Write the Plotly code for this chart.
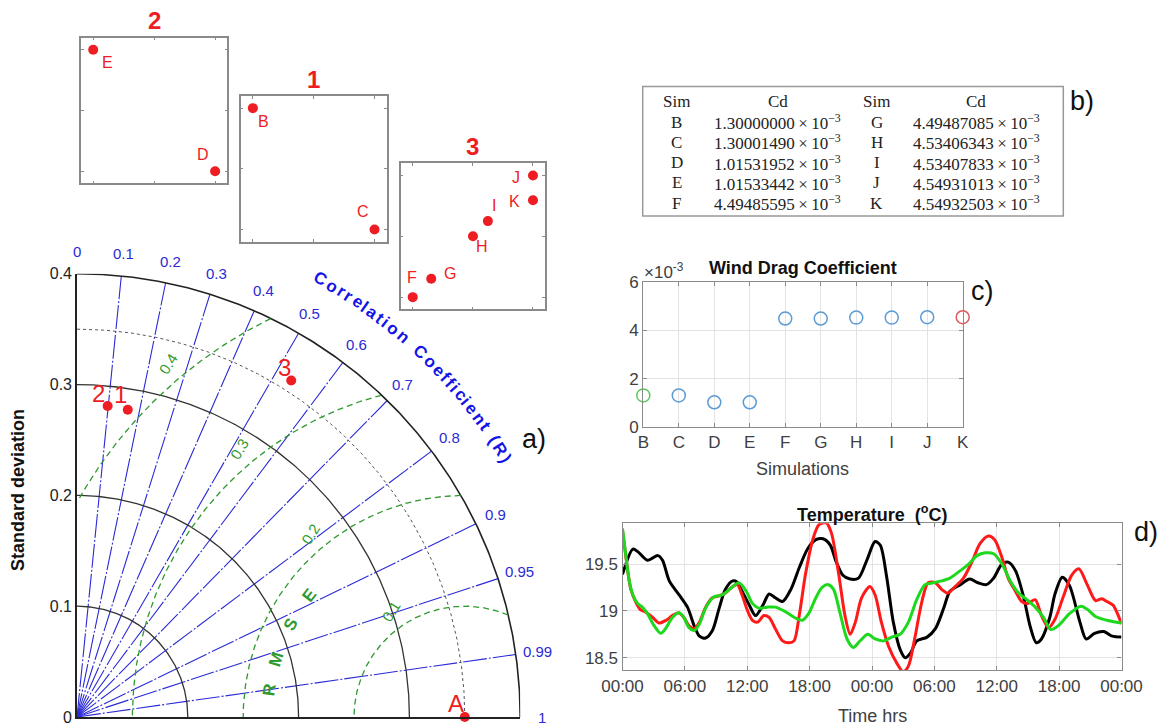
import numpy as np
import plotly.graph_objects as go

W, H = 1161, 728

# ---------------- data ----------------
# a) Taylor diagram
taylor_names = ["2", "1", "3", "A"]
taylor_std = [0.282, 0.281, 0.360, 0.350]
taylor_corr = [0.098, 0.163, 0.537, 1.0]
ref_std = 0.350
std_circles = [0.1, 0.2, 0.3]
std_max = 0.4
std_ticks = [0, 0.1, 0.2, 0.3, 0.4]
rmse_levels = [0.1, 0.2, 0.3, 0.4]
corr_spokes = [0.1, 0.2, 0.3, 0.4, 0.5, 0.6, 0.7, 0.8, 0.9, 0.95, 0.99]
corr_ticks = [0, 0.1, 0.2, 0.3, 0.4, 0.5, 0.6, 0.7, 0.8, 0.9, 0.95, 0.99, 1]
corr_title = "Correlation Coefficient (R)"
rmse_title = ["R", "M", "S", "E"]

# zoomed groups (relative position inside each zoom box)
group_titles = ["2", "1", "3"]
group2_names = ["E", "D"]
group2_x = [0.0, 1.0]
group2_y = [1.0, 0.0]
group1_names = ["B", "C"]
group1_x = [0.0, 1.0]
group1_y = [1.0, 0.0]
group3_names = ["F", "G", "H", "I", "J", "K"]
group3_x = [0.0, 0.154, 0.501, 0.625, 1.0, 1.0]
group3_y = [0.0, 0.151, 0.501, 0.625, 1.0, 0.797]

# b) / c) wind drag coefficient
sims = ["B", "C", "D", "E", "F", "G", "H", "I", "J", "K"]
cd = [1.30000000e-3, 1.30001490e-3, 1.01531952e-3, 1.01533442e-3, 4.49485595e-3,
      4.49487085e-3, 4.53406343e-3, 4.53407833e-3, 4.54931013e-3, 4.54932503e-3]
cd_ticks = [0, 0.002, 0.004, 0.006]

# d) temperature time series (hours from start, deg C)
t_black = [0, 1.0, 1.5, 2.4, 3.4, 3.85, 4.5, 5.45, 6.25, 6.9, 7.4, 8.0, 8.65, 9.3, 9.9, 10.6,
           11.0, 11.5, 12.2, 12.8, 13.5, 14.1, 14.7, 15.4, 16.2, 17.0, 17.8, 18.6, 19.3, 20.0,
           20.5, 21.2, 21.9, 22.7, 23.5, 24.3, 24.8, 25.4, 26.05, 26.7, 27.2, 27.7, 28.3, 29.3,
           30.1, 30.9, 31.5, 32.5, 33.4, 34.2, 35.0, 35.7, 36.5, 37.1, 37.8, 38.6, 39.2, 39.8,
           40.3, 41.1, 41.6, 42.3, 43.0, 44.0, 44.6, 45.4, 46.3, 47.1, 48.0]
T_black = [19.39, 19.66, 19.63, 19.54, 19.59, 19.54, 19.32, 19.17, 19.04, 18.84, 18.73, 18.71,
           18.79, 19.03, 19.23, 19.32, 19.31, 19.21, 19.06, 18.95, 19.06, 19.18, 19.14, 19.10,
           19.23, 19.46, 19.66, 19.76, 19.77, 19.70, 19.54, 19.38, 19.34, 19.35, 19.54, 19.74,
           19.70, 19.37, 18.88, 18.59, 18.50, 18.55, 18.68, 18.72, 18.81, 19.03, 19.21, 19.28,
           19.34, 19.30, 19.28, 19.35, 19.50, 19.52, 19.43, 19.14, 18.84, 18.66, 18.70, 18.93,
           19.18, 19.36, 19.27, 18.88, 18.70, 18.76, 18.78, 18.73, 18.72]

t_red = [0, 0.3, 0.5, 0.8, 1.3, 1.75, 2.2, 2.9, 3.5, 4.2, 4.8, 5.4, 5.9, 6.4, 6.9, 7.4, 8.0,
         8.65, 9.3, 9.9, 10.6, 11.05, 11.5, 12.0, 12.5, 13.0, 13.6, 14.1, 14.7, 15.4, 16.0,
         16.5, 17.0, 17.6, 18.3, 18.9, 19.6, 20.1, 20.8, 21.4, 21.9, 22.4, 23.0, 23.8, 24.3,
         24.9, 25.6, 26.4, 27.0, 27.5, 28.1, 28.8, 29.4, 30.1, 30.7, 31.3, 32.0, 32.8, 33.6,
         34.4, 35.2, 35.8, 36.5, 37.1, 37.8, 38.4, 39.0, 39.7, 40.3, 41.0, 41.6, 42.4, 43.2,
         43.9, 44.7, 45.5, 46.1, 46.6, 47.2, 48.0]
T_red = [19.86, 19.60, 19.43, 19.23, 19.09, 19.01, 18.99, 18.93, 18.87, 18.90, 18.95, 18.98,
         18.93, 18.84, 18.81, 18.88, 19.04, 19.14, 19.16, 19.19, 19.26, 19.28, 19.17, 19.01,
         18.90, 18.88, 18.95, 18.93, 18.81, 18.68, 18.66, 18.68, 18.95, 19.39, 19.76, 19.92,
         19.94, 19.83, 19.39, 18.95, 18.75, 18.88, 19.14, 19.26, 19.17, 18.88, 18.62, 18.44,
         18.35, 18.41, 18.70, 19.10, 19.30, 19.30, 19.23, 19.19, 19.26, 19.35, 19.52, 19.72,
         19.80, 19.76, 19.57, 19.35, 19.21, 19.10, 19.08, 19.12, 18.95, 18.82, 18.91, 19.15,
         19.38, 19.45, 19.28, 19.11, 19.13, 19.10, 19.06, 18.86]

t_green = [0, 0.3, 0.65, 1.0, 1.45, 1.9, 2.4, 3.05, 3.7, 4.2, 4.8, 5.45, 5.9, 6.4, 6.9, 7.4,
           8.0, 8.8, 9.6, 10.4, 11.2, 11.9, 12.5, 13.1, 13.9, 14.7, 15.7, 16.7, 17.3, 17.9,
           18.6, 19.2, 19.8, 20.3, 20.9, 21.6, 22.2, 22.85, 23.6, 24.3, 25.1, 25.9, 26.7, 27.5,
           28.3, 29.1, 29.9, 30.7, 31.5, 32.5, 33.3, 34.1, 34.9, 35.7, 36.5, 37.3, 38.1, 38.9,
           39.7, 40.5, 41.2, 42.0, 43.0, 44.1, 44.8, 45.5, 46.6, 48.0]
T_green = [19.88, 19.61, 19.32, 19.17, 19.08, 19.04, 18.97, 18.84, 18.76, 18.82, 18.93, 18.98,
           18.93, 18.82, 18.79, 18.86, 19.03, 19.15, 19.17, 19.24, 19.30, 19.21, 19.08, 19.03,
           19.04, 19.04, 18.99, 18.92, 18.90, 18.97, 19.14, 19.25, 19.28, 19.23, 18.99, 18.70,
           18.61, 18.68, 18.75, 18.70, 18.68, 18.72, 18.75, 18.88, 19.12, 19.28, 19.30, 19.32,
           19.35, 19.43, 19.50, 19.59, 19.62, 19.61, 19.50, 19.32, 19.19, 19.12, 19.04, 18.93,
           18.80, 18.85, 18.97, 19.05, 19.01, 18.94, 18.90, 18.87]
time_ticks = [0, 6, 12, 18, 24, 30, 36, 42, 48]
time_labels = ["00:00", "06:00", "12:00", "18:00", "00:00", "06:00", "12:00", "18:00", "00:00"]
temp_ticks = [18.5, 19, 19.5]

# ---------------- styles ----------------
FONT = "Liberation Sans"
SERIF = "Liberation Serif"
RED = "#ee1d23"
BLUE = "#2a2ad6"
GREEN = "#2f9a2f"
BOXC = "#8a8a8a"
TICKC = "#404040"

# Taylor axes placement (pixels)
TX0, TY0, TSCALE = 77.0, 717.0, 1108.0


def dom_x(a, b):
    return [a / W, b / W]


def dom_y(top, bottom):
    return [1 - bottom / H, 1 - top / H]


def tp(x, y):
    """Taylor data coords -> paper coords (for annotations placed outside the range)."""
    return (TX0 + x * TSCALE) / W, 1 - (TY0 - y * TSCALE) / H


def pa(x, y, text, font, **kw):
    d = dict(x=x, y=y, xref="paper", yref="paper", text=text, showarrow=False,
             xanchor="center", yanchor="middle", font=font)
    d.update(kw)
    return d


fig = go.Figure()
ann = []
shapes = []

# ---------- a) Taylor diagram ----------
th = np.linspace(0, np.pi / 2, 300)
sx, sy = [], []
for c in corr_spokes:
    a = np.arccos(c)
    sx += [0, std_max * np.cos(a), None]
    sy += [0, std_max * np.sin(a), None]
fig.add_trace(go.Scatter(x=sx, y=sy, mode="lines", xaxis="x", yaxis="y",
                         line=dict(color=BLUE, width=1.1, dash="24px,2px,2px,2px"),
                         hoverinfo="skip"))
for s in std_circles:
    fig.add_trace(go.Scatter(x=s * np.cos(th), y=s * np.sin(th), mode="lines", xaxis="x", yaxis="y",
                             line=dict(color="#333333", width=1.3), hoverinfo="skip"))
fig.add_trace(go.Scatter(x=std_max * np.cos(th), y=std_max * np.sin(th), mode="lines", xaxis="x",
                         yaxis="y", line=dict(color="#222222", width=1.6), hoverinfo="skip"))
fig.add_trace(go.Scatter(x=ref_std * np.cos(th), y=ref_std * np.sin(th), mode="lines", xaxis="x",
                         yaxis="y", line=dict(color="#555555", width=1, dash="dot"), hoverinfo="skip"))
phi = np.linspace(0, np.pi, 600)
for v in rmse_levels:
    x = ref_std + v * np.cos(phi)
    y = v * np.sin(phi)
    ok = (x >= 0) & (np.hypot(x, y) <= std_max)
    fig.add_trace(go.Scatter(x=x[ok], y=y[ok], mode="lines", xaxis="x", yaxis="y",
                             line=dict(color=GREEN, width=1.3, dash="6px,4px"), hoverinfo="skip"))
tx = [s * c for s, c in zip(taylor_std, taylor_corr)]
ty = [s * np.sqrt(max(0.0, 1 - c * c)) for s, c in zip(taylor_std, taylor_corr)]
fig.add_trace(go.Scatter(x=tx, y=ty, mode="markers", xaxis="x", yaxis="y", cliponaxis=False,
                         marker=dict(color=RED, size=10), hoverinfo="skip"))
label_shift = {"2": (-9, 13), "1": (-7, 15), "3": (-7, 13), "A": (-9, 14)}
for n, x, y in zip(taylor_names, tx, ty):
    dxs, dys = label_shift[n]
    ann.append(pa(*tp(x, y), n, dict(family=FONT, size=24, color=RED), xshift=dxs, yshift=dys))
for c in corr_ticks:
    a = np.arccos(c)
    r = 0.42
    ann.append(pa(*tp(r * np.cos(a), r * np.sin(a)), f"{c:g}",
                  dict(family=FONT, size=15, color=BLUE)))
cw = {"C": 11.6, "o": 9.8, "r": 6.4, "e": 8.9, "l": 4.6, "a": 8.9, "t": 5.6, "i": 4.6, "n": 9.8,
      " ": 6.0, "f": 5.6, "(": 5.6, ")": 5.6, "R": 11.6}
ws = [cw.get(ch, 8) for ch in corr_title]
cent = np.cumsum(ws) - np.array(ws) / 2
ang = 61.0 + (cent - cent[0]) / (cent[-1] - cent[0]) * (31.0 - 61.0)
for ch, a in zip(corr_title, ang):
    if ch == " ":
        continue
    ar = np.radians(a)
    ann.append(pa(*tp(0.452 * np.cos(ar), 0.452 * np.sin(ar)), ch,
                  dict(family=FONT, size=17, color="#1414e6", weight="bold"), textangle=90 - a))
for v in rmse_levels:
    a = np.radians(125 if v == 0.1 else 130)
    r = v + 0.016
    ann.append(pa(*tp(ref_std + r * np.cos(a), r * np.sin(a)), f"{v:g}",
                  dict(family=FONT, size=15, color=GREEN), textangle=-58))
for ch, a in zip(rmse_title, [172, 163, 152, 142]):
    ar = np.radians(a)
    ann.append(pa(*tp(ref_std + 0.178 * np.cos(ar), 0.178 * np.sin(ar)), ch,
                  dict(family=FONT, size=17, color=GREEN, weight="bold"), textangle=-(a - 90)))
ann.append(pa(18 / W, 1 - 490 / H, "Standard deviation",
              dict(family=FONT, size=18, color="#111111", weight="bold"), textangle=-90))
for txt, x, y in [("a)", 534, 439), ("b)", 1082, 101), ("c)", 982, 291), ("d)", 1146, 532)]:
    ann.append(pa(x / W, 1 - y / H, txt, dict(family=FONT, size=27, color="#111111")))

# ---------- zoom groups ----------
groups = [
    ("x2", "y2", group2_names, group2_x, group2_y, (81, 227.3, 37.7, 183.3), group_titles[0]),
    ("x3", "y3", group1_names, group1_x, group1_y, (240.7, 386.7, 96, 241.7), group_titles[1]),
    ("x4", "y4", group3_names, group3_x, group3_y, (400.7, 545, 163.3, 309.3), group_titles[2]),
]
name_shift = {"E": (14, -13), "D": (-12, 17), "B": (11, -13), "C": (-12, 18), "F": (-1, 20),
              "G": (19, 5), "H": (9, -10), "I": (6, 16), "J": (-17, -2), "K": (-18, -1)}
layout_axes = {}
for xa, ya, names, gx, gy, (l, r, t, b), title in groups:
    fig.add_trace(go.Scatter(x=gx, y=gy, mode="markers", xaxis=xa, yaxis=ya, cliponaxis=False,
                             marker=dict(color=RED, size=10), hoverinfo="skip"))
    for n, x, y in zip(names, gx, gy):
        dxs, dys = name_shift[n]
        ann.append(dict(x=x, y=y, xref=xa, yref=ya, text=n, showarrow=False, xshift=dxs,
                        yshift=dys, xanchor="center", yanchor="middle",
                        font=dict(family=FONT, size=16, color=RED)))
    common = dict(range=[-0.1, 1.1], showline=True, mirror="ticks", linecolor=BOXC, linewidth=1.5,
                  ticks="inside", ticklen=3, tickcolor=BOXC, tickvals=[0, 0.5, 1],
                  showticklabels=False, showgrid=False, zeroline=False, automargin=False)
    layout_axes["xaxis" + xa[1:]] = dict(domain=dom_x(l, r), anchor=ya, **common)
    layout_axes["yaxis" + ya[1:]] = dict(domain=dom_y(t, b), anchor=xa, **common)
    ann.append(pa((l + r) / 2 / W, 1 - (t - 17) / H, title,
                  dict(family=FONT, size=24, color=RED, weight="bold")))

# ---------- b) table ----------
tl, tr, tt, tb = 642.7, 1063.3, 86.5, 216
shapes.append(dict(type="rect", xref="paper", yref="paper", x0=tl / W, x1=tr / W, y0=1 - tb / H,
                   y1=1 - tt / H, line=dict(color="#999999", width=1.5)))
col_x = [676.7, 777.5, 876.7, 976.0]
row0, pitch = 102.0, 20.2
tfont = dict(family=SERIF, size=17, color="#222222")
for i, hdr in enumerate(["Sim", "Cd", "Sim", "Cd"]):
    ann.append(pa(col_x[i] / W, 1 - row0 / H, hdr, tfont))
for k in range(5):
    for j in range(2):
        idx = k + 5 * j
        y = 1 - (row0 + pitch * (k + 1)) / H
        ann.append(pa(col_x[2 * j] / W, y, sims[idx], tfont))
        ann.append(pa(col_x[2 * j + 1] / W, y,
                      f"{cd[idx] * 1e3:.8f}\u2009\u00d7\u200910<sup>\u22123</sup>", tfont))

# ---------- c) wind drag coefficient ----------
cd_colors = ["#5cc85c"] + ["#5b9bd5"] * 8 + ["#e05a5a"]
fig.add_trace(go.Scatter(x=sims, y=cd, mode="markers", xaxis="x5", yaxis="y5", cliponaxis=False,
                         marker=dict(symbol="circle-open", size=13, color=cd_colors,
                                     line=dict(width=1.5)), hoverinfo="skip"))
axc = dict(showline=True, mirror="ticks", linecolor=BOXC, linewidth=1.2, ticks="inside", ticklen=4,
           tickcolor=BOXC, showgrid=True, gridcolor="#e3e3e3", zeroline=False, automargin=False,
           tickfont=dict(family=FONT, size=17, color=TICKC))
layout_axes["xaxis5"] = dict(domain=dom_x(643.3, 962.7), anchor="y5", type="category",
                             categoryorder="array", categoryarray=sims, range=[0, 9], **axc)
layout_axes["yaxis5"] = dict(domain=dom_y(282.3, 426.7), anchor="x5", range=[0, 0.006],
                             tickvals=cd_ticks, ticktext=[f"{v * 1e3:g}" for v in cd_ticks], **axc)
ann.append(pa(802.5 / W, 1 - 268 / H, "Wind Drag Coefficient",
              dict(family=FONT, size=18, color="#111111", weight="bold")))
ann.append(pa(664 / W, 1 - 271 / H, "\u00d710<sup>-3</sup>",
              dict(family=FONT, size=17, color=TICKC)))
ann.append(pa(802.5 / W, 1 - 469 / H, "Simulations", dict(family=FONT, size=18, color=TICKC)))

# ---------- d) temperature ----------
for tt_, TT, col in [(t_black, T_black, "#000000"), (t_red, T_red, "#ff1a1a"),
                     (t_green, T_green, "#1ed81e")]:
    fig.add_trace(go.Scatter(x=tt_, y=TT, mode="lines", xaxis="x6", yaxis="y6",
                             line=dict(color=col, width=3, shape="spline", smoothing=0.8),
                             hoverinfo="skip"))
layout_axes["xaxis6"] = dict(domain=dom_x(622.5, 1121.5), anchor="y6", range=[0, 48],
                             tickvals=time_ticks, ticktext=time_labels, **axc)
layout_axes["yaxis6"] = dict(domain=dom_y(523.3, 670), anchor="x6", range=[18.369, 19.935],
                             tickvals=temp_ticks, ticktext=[f"{v:g}" for v in temp_ticks], **axc)
ann.append(pa(872 / W, 1 - 513 / H, "Temperature  (<sup>o</sup>C)",
              dict(family=FONT, size=18, color="#111111", weight="bold")))
ann.append(pa(872 / W, 1 - 716 / H, "Time hrs", dict(family=FONT, size=18, color=TICKC)))

fig.update_layout(
    width=W, height=H, margin=dict(l=0, r=0, t=0, b=0, autoexpand=False), paper_bgcolor="white",
    plot_bgcolor="white", showlegend=False, font=dict(family=FONT),
    xaxis=dict(domain=dom_x(TX0, TX0 + std_max * TSCALE), range=[0, std_max], showline=True,
               linecolor="#222222", linewidth=1.6, showgrid=False, zeroline=False,
               showticklabels=False, ticks="", automargin=False),
    yaxis=dict(domain=dom_y(TY0 - std_max * TSCALE, TY0), range=[0, std_max], showline=True,
               linecolor="#222222", linewidth=1.6, showgrid=False, zeroline=False, ticks="",
               tickvals=std_ticks, ticktext=[f"{v:g}" for v in std_ticks], automargin=False,
               tickfont=dict(family=FONT, size=16, color="#222222")),
    annotations=ann, shapes=shapes, **layout_axes,
)
fig.write_html("out.html")
